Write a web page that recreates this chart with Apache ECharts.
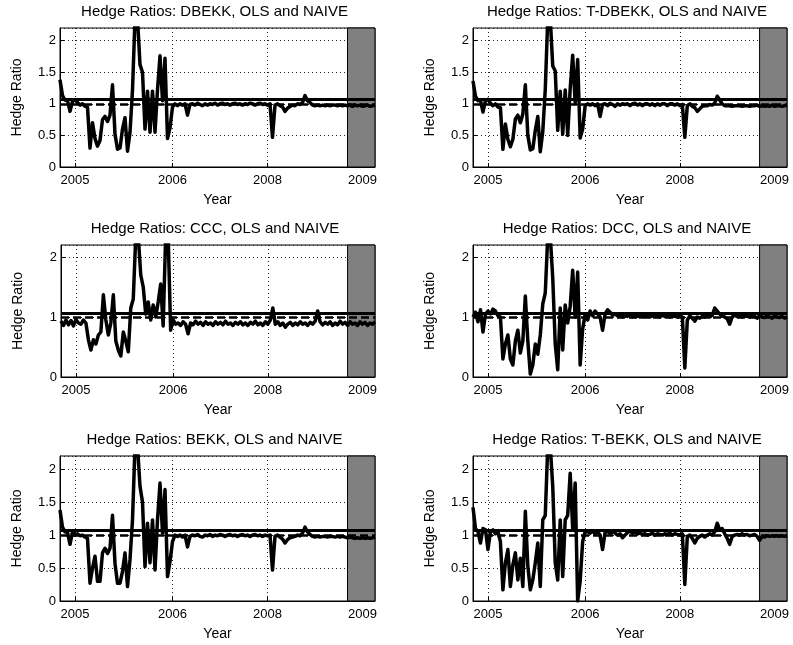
<!DOCTYPE html>
<html><head><meta charset="utf-8">
<script src="https://cdn.jsdelivr.net/npm/echarts/dist/echarts.min.js"></script>
<style>html,body{margin:0;padding:0;background:#fff}#c{width:793px;height:645px}</style>
</head><body><div id="c"></div>
<script>
// ---- data ----
const titles = [
  'Hedge Ratios: DBEKK, OLS and NAIVE',
  'Hedge Ratios: T-DBEKK, OLS and NAIVE',
  'Hedge Ratios: CCC, OLS and NAIVE',
  'Hedge Ratios: DCC, OLS and NAIVE',
  'Hedge Ratios: BEKK, OLS and NAIVE',
  'Hedge Ratios: T-BEKK, OLS and NAIVE'
];
const tickIndex = [6, 45, 83, 121];
const tickLabels = ['2005', '2006', '2008', '2009'];
const forecastStart = 115;
const forecastEnd = 126;
const olsRatio = 1.07;
const naiveRatio = 1.0;

const dbekk = [1.38,1.13,1.06,1.05,0.88,1.04,1.06,1.02,0.98,1.0,0.96,0.95,
 0.3,0.7,0.45,0.33,0.42,0.75,0.8,0.72,0.82,1.3,0.52,0.28,
 0.3,0.6,0.78,0.25,0.55,1.22,2.35,2.35,1.62,1.5,0.6,1.2,
 0.55,1.2,0.55,1.22,1.76,1.05,1.72,0.45,0.62,0.95,1.0,
 0.97,1.0,0.98,1.0,0.82,0.99,1.0,0.98,1.01,0.99,0.97,1.0,
 0.98,1.0,0.99,1.01,0.98,1.0,1.01,0.99,1.0,0.98,1.0,1.01,
 0.99,1.0,0.98,1.0,0.99,1.01,1.0,0.98,1.0,1.01,0.99,1.0,
 0.98,1.0,0.47,0.98,1.0,0.97,0.95,0.88,0.93,0.96,0.98,0.97,
 1.0,0.99,1.02,1.13,1.05,1.02,0.98,0.97,0.98,0.97,0.98,0.97,
 0.98,0.97,0.98,0.98,0.97,0.98,0.97,0.98,0.97,0.98,0.96,0.98,
 0.97,0.98,0.96,0.97,0.98,0.96,0.97,0.98];
const tdbekk = [1.36,1.12,1.05,1.06,0.87,1.05,1.07,1.01,0.97,1.0,0.95,0.94,
 0.28,0.68,0.44,0.32,0.44,0.76,0.82,0.7,0.84,1.3,0.5,0.27,
 0.29,0.58,0.8,0.24,0.56,1.23,2.35,2.35,1.6,1.52,0.58,1.2,
 0.52,1.22,0.5,1.24,1.77,1.02,1.7,0.46,0.6,0.97,1.0,
 0.98,1.0,0.97,1.0,0.8,0.99,1.0,0.97,1.01,0.99,0.96,1.0,
 0.98,1.0,0.99,1.0,0.97,1.0,1.01,0.98,1.0,0.97,1.0,1.0,
 0.98,1.0,0.97,1.0,0.98,1.0,1.0,0.97,1.0,1.0,0.98,1.0,
 0.97,0.99,0.47,0.97,1.0,0.96,0.94,0.88,0.92,0.96,0.97,0.97,
 0.99,0.98,1.01,1.12,1.06,1.0,0.97,0.97,0.97,0.96,0.97,0.97,
 0.97,0.96,0.97,0.97,0.96,0.97,0.97,0.98,0.96,0.97,0.96,0.97,
 0.96,0.98,0.96,0.97,0.97,0.96,0.97,0.98];
const ccc = [0.93,0.86,0.95,0.87,0.94,0.85,0.96,0.9,0.88,0.95,0.9,0.62,
 0.45,0.62,0.55,0.7,0.75,1.37,0.95,0.7,0.9,1.37,0.6,0.45,
 0.35,0.75,0.6,0.42,1.15,1.3,2.35,2.35,1.7,1.5,1.05,1.25,
 0.95,1.2,1.0,1.25,1.55,0.85,2.35,2.35,0.78,0.95,0.88,
 0.9,0.86,0.92,0.88,0.72,0.9,0.87,0.93,0.88,0.91,0.86,0.92,
 0.88,0.9,0.86,0.92,0.88,0.91,0.87,0.93,0.88,0.9,0.86,0.91,
 0.88,0.92,0.87,0.9,0.86,0.91,0.88,0.93,0.87,0.9,0.86,0.92,
 0.88,0.95,1.15,0.88,0.92,0.86,0.9,0.83,0.88,0.91,0.86,0.9,
 0.87,0.92,0.88,0.9,0.86,0.91,0.88,0.93,1.1,0.92,0.87,0.91,
 0.88,0.92,0.86,0.9,0.87,0.93,0.88,0.91,0.86,0.92,0.88,0.9,
 0.86,0.92,0.88,0.91,0.86,0.9,0.88,0.92];
const dcc = [1.0,1.08,0.92,1.12,0.75,1.05,1.1,1.05,1.13,1.1,1.02,1.0,
 0.3,0.55,0.7,0.3,0.2,0.6,0.78,0.4,0.6,1.35,0.6,0.05,
 0.2,0.55,0.38,0.7,1.22,1.4,2.35,2.35,1.65,0.55,0.12,1.15,
 0.45,1.2,0.9,1.18,1.78,1.0,1.75,0.2,0.8,1.05,0.95,
 1.1,1.02,1.1,1.05,1.0,0.78,1.05,1.12,1.08,1.03,1.05,1.02,
 1.04,1.0,1.03,1.01,1.04,1.0,1.02,1.03,1.0,1.02,1.01,1.03,
 1.0,1.02,1.04,1.01,1.0,1.03,1.01,1.02,1.0,1.03,1.01,1.0,
 1.02,1.0,0.15,0.95,1.02,0.98,0.93,1.0,0.98,1.01,1.0,1.02,
 1.0,1.03,1.15,1.1,1.05,1.02,1.0,0.97,0.88,1.0,1.03,1.01,
 1.02,1.0,1.03,1.01,1.0,1.02,1.01,0.98,1.02,1.0,0.99,1.02,
 1.0,0.98,1.02,1.0,0.99,1.01,0.98,1.0];
const bekk = [1.38,1.12,1.05,1.04,0.86,1.05,1.0,1.02,0.99,1.0,0.97,0.95,
 0.27,0.5,0.68,0.3,0.3,0.73,0.8,0.72,0.8,1.3,0.57,0.27,
 0.27,0.45,0.73,0.22,0.63,1.23,2.35,2.35,1.74,1.5,0.52,1.18,
 0.58,1.23,0.47,1.23,1.79,1.03,1.69,0.37,0.6,0.9,1.0,
 0.98,1.0,0.97,1.0,0.82,0.98,1.0,0.99,1.01,0.98,0.97,1.0,
 0.99,1.01,0.98,1.0,0.99,1.01,1.0,0.98,1.0,1.01,0.99,1.0,
 0.98,1.0,1.01,0.99,1.0,0.98,1.0,1.01,0.99,1.0,0.98,1.0,
 0.99,1.0,0.47,0.98,1.0,0.97,0.94,0.88,0.93,0.96,0.97,0.98,
 1.0,0.99,1.03,1.12,1.05,1.01,0.98,0.97,0.98,0.97,0.98,0.98,
 0.97,0.98,0.98,0.97,0.98,0.97,0.98,0.97,0.96,0.97,0.96,0.95,
 0.96,0.95,0.96,0.95,0.96,0.95,0.96,0.97];
const tbekk = [1.42,1.1,1.05,0.88,1.1,1.08,0.78,1.05,1.08,1.02,1.05,0.9,
 0.17,0.58,0.78,0.22,0.55,0.73,0.32,0.65,0.22,1.36,0.53,0.17,
 0.32,0.58,0.88,0.22,1.23,1.3,2.35,2.35,1.74,0.58,0.32,1.23,
 0.37,1.23,1.3,1.94,1.1,1.79,0.0,0.3,0.9,1.05,1.05,
 1.03,1.06,1.02,1.05,1.0,0.78,1.04,1.06,1.02,1.05,1.03,1.0,
 1.02,0.96,1.0,1.04,1.06,1.03,1.05,1.02,1.03,1.01,1.02,1.0,
 1.01,1.03,1.0,1.02,1.01,1.0,1.02,1.01,1.03,1.0,1.02,1.01,
 1.0,1.02,0.25,0.98,1.0,0.95,0.88,0.95,0.98,1.0,0.97,1.0,
 1.02,1.0,1.05,1.18,1.08,1.1,1.02,0.95,0.86,0.98,1.0,1.01,
 1.0,1.02,1.0,1.01,0.99,1.0,1.01,0.98,0.92,0.98,0.97,0.99,
 0.98,0.99,0.98,0.99,0.98,0.99,0.98,0.99];
const seriesList = [dbekk, tdbekk, ccc, dcc, bekk, tbekk];

// ---- layout ----
const grids = [
  {left: 60, top: 28, width: 315, height: 139},
  {left: 473, top: 28, width: 314, height: 139},
  {left: 61, top: 245, width: 314, height: 132},
  {left: 473, top: 245, width: 314, height: 132},
  {left: 60, top: 456, width: 315, height: 145},
  {left: 473, top: 456, width: 314, height: 145}
];
const FONT = '"Liberation Sans", Arial, sans-serif';
const cats = dbekk.map((_, i) => String(i));
const isTick = (i) => tickIndex.indexOf(i) >= 0;
const labelFor = (i) => { const k = tickIndex.indexOf(i); return k >= 0 ? tickLabels[k] : ''; };

const option = {
  animation: false,
  backgroundColor: '#fff',
  title: [], grid: [], xAxis: [], yAxis: [], series: []
};
grids.forEach((g, k) => {
  const middleRow = (k === 2 || k === 3);
  option.grid.push({left: g.left, top: g.top, width: g.width, height: g.height,
    show: true, borderColor: '#000', borderWidth: 1, backgroundColor: 'transparent'});
  option.title.push({text: titles[k], left: g.left + g.width / 2 - 3, top: g.top - 24,
    textAlign: 'center', padding: 0,
    textStyle: {fontSize: 15, fontWeight: 'normal', color: '#000', fontFamily: FONT}});
  option.xAxis.push({
    type: 'category', gridIndex: k, data: cats, boundaryGap: false,
    axisLine: {lineStyle: {color: '#000', width: 1}},
    axisTick: {inside: true, length: 4, interval: (i) => isTick(i), lineStyle: {color: '#000'}},
    axisLabel: {interval: (i) => isTick(i), formatter: (v, i) => labelFor(i),
      color: '#000', fontSize: 13, fontFamily: FONT, margin: 7},
    splitLine: {show: true, interval: (i) => isTick(i),
      lineStyle: {type: [1, 3], color: '#222', width: 1}},
    name: 'Year', nameLocation: 'middle', nameGap: 26,
    nameTextStyle: {fontSize: 14, color: '#000', fontFamily: FONT}
  });
  option.yAxis.push({
    type: 'value', gridIndex: k, min: 0, max: 2.2, interval: middleRow ? 1 : 0.5,
    axisLine: {show: true, lineStyle: {color: '#000', width: 1}},
    axisTick: {show: true, inside: true, length: 4, lineStyle: {color: '#000'}},
    axisLabel: {color: '#000', fontSize: 13, fontFamily: FONT, margin: 4,
      showMaxLabel: false},
    splitLine: {show: true, lineStyle: {type: [1, 3], color: '#222', width: 1}},
    name: 'Hedge Ratio', nameLocation: 'middle', nameGap: 36,
    nameTextStyle: {fontSize: 14, color: '#000', fontFamily: FONT}
  });
  option.series.push({
    type: 'line', xAxisIndex: k, yAxisIndex: k, data: seriesList[k],
    showSymbol: false, symbol: 'none', z: 3,
    lineStyle: {color: '#000', width: 3.5, join: 'round'}, itemStyle: {color: '#000'},
    markArea: {silent: true, itemStyle: {color: '#808080', borderColor: '#000', borderWidth: 1},
      data: [[{xAxis: forecastStart}, {xAxis: forecastEnd}]]},
    markLine: {silent: true, symbol: 'none', label: {show: false}, animation: false,
      data: [
        {yAxis: olsRatio, lineStyle: {color: '#000', type: 'solid', width: 3}},
        {yAxis: naiveRatio, lineStyle: {color: '#000', type: [8, 4], width: 2.5}}
      ]}
  });
});
const chart = echarts.init(document.getElementById('c'), null, {renderer: 'canvas'});
chart.setOption(option);
</script>
</body></html>
